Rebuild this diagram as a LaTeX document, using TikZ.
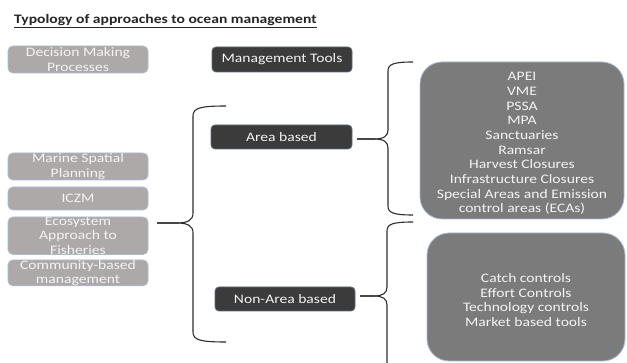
\documentclass[tikz,border=0pt]{standalone}
\usepackage{fontspec}
\setmainfont{Carlito}[FakeStretch=1.2]
\definecolor{lightfill}{HTML}{ADA9A9}
\definecolor{bordblue}{HTML}{A9BCD6}
\definecolor{darkfill}{HTML}{3B3B3B}
\definecolor{darkbord}{HTML}{5E6B7E}
\definecolor{bigfill}{HTML}{7B7B7B}
\definecolor{boxtext}{HTML}{F4F4F4}
\definecolor{bracecol}{HTML}{2E2E2E}
\tikzset{
  boxbase/.style={anchor=north west, inner sep=0pt, outer sep=0pt, align=center,
    text=boxtext, font=\fontsize{13}{14.5}\selectfont, line width=0.8pt},
  lightbox/.style={boxbase, draw=bordblue, fill=lightfill, rounded corners=5pt},
  darkbox/.style={boxbase, draw=darkbord, fill=darkfill, rounded corners=4pt},
  bigbox/.style={boxbase, draw=bordblue, fill=bigfill, rounded corners=22pt},
  bigtext/.style={inner sep=0pt, align=center, text=boxtext,
    font=\fontsize{13}{14.7}\selectfont},
  bracelink/.style={draw=bracecol, line width=1.1pt},
}
\begin{document}
\begin{tikzpicture}[x=1pt,y=-1pt]
\useasboundingbox (0,0) rectangle (627,363);
\fill[white] (0,0) rectangle (627,363);

\node[anchor=base west, inner sep=0pt, font=\fontsize{13}{15}\selectfont\bfseries, text=black!85]
  (title) at (14,24) {\underline{Typology of approaches to ocean management}};

% left column
\node[lightbox, minimum width=140pt, minimum height=27pt] (dm) at (8,46) {Decision Making\\Processes};
\node[lightbox, minimum width=140pt, minimum height=27pt] (msp) at (8,153) {Marine Spatial\\Planning};
\node[lightbox, minimum width=140pt, minimum height=23pt] (iczm) at (8,187) {ICZM};
\node[lightbox, minimum width=140pt, minimum height=36pt] (eap) at (8,217) {Ecosystem\\Approach to\\Fisheries};
\node[lightbox, minimum width=140pt, minimum height=25pt] (cbm) at (8,260) {Community-based\\management};

% middle column
\node[darkbox, minimum width=140pt, minimum height=25pt] (mt) at (212,47) {Management Tools};
\node[darkbox, minimum width=141pt, minimum height=24pt] (ab) at (211,125) {Area based};
\node[darkbox, minimum width=140pt, minimum height=24pt] (nab) at (215,287) {Non-Area based};

% right column
\node[bigbox, minimum width=204pt, minimum height=157pt] (big1) at (420,62) {};
\node[bigtext] (big1t) at ([yshift=-3pt]big1.center)
  {APEI\\VME\\PSSA\\MPA\\Sanctuaries\\Ramsar\\Harvest Closures\\Infrastructure Closures\\Special Areas and Emission\\control areas (ECAs)};
\node[bigbox, minimum width=198pt, minimum height=128pt] (big2) at (427,233) {};
\node[bigtext] (big2t) at ([yshift=-3pt]big2.center)
  {Catch controls\\Effort Controls\\Technology controls\\Market based tools};

% braces
\coordinate (Ltop) at (226,106);
\coordinate (Ltip) at (157,223);
\coordinate (Lbot) at (226,342);
\draw[bracelink] (Ltop) .. controls (200,106) and (193,108) .. (193,116) -- (193,213)
  .. controls (193,220) and (188,223) .. (177,223) -- (Ltip);
\draw[bracelink] (Ltip) -- (177,223) .. controls (188,223) and (193,226) .. (193,233)
  -- (193,332) .. controls (193,340) and (200,342) .. (Lbot);

\coordinate (Atop) at (413,62);
\coordinate (Atip) at (357,139);
\coordinate (Abot) at (413,215);
\draw[bracelink] (Atop) .. controls (394,62) and (388,64) .. (388,71) -- (388,130)
  .. controls (388,136) and (384,139) .. (374,139) -- (Atip);
\draw[bracelink] (Atip) -- (374,139) .. controls (384,139) and (388,142) .. (388,148)
  -- (388,206) .. controls (388,213) and (394,215) .. (Abot);

\coordinate (Ntop) at (413,222);
\coordinate (Ntip) at (360,296);
\coordinate (Nbot) at (387,363);
\draw[bracelink] (Ntop) .. controls (393,222) and (387,224) .. (387,231) -- (387,287)
  .. controls (387,293) and (383,296) .. (374,296) -- (Ntip);
\draw[bracelink] (Ntip) -- (374,296) .. controls (383,296) and (387,299) .. (387,305)
  -- (Nbot);
\end{tikzpicture}
\end{document}
